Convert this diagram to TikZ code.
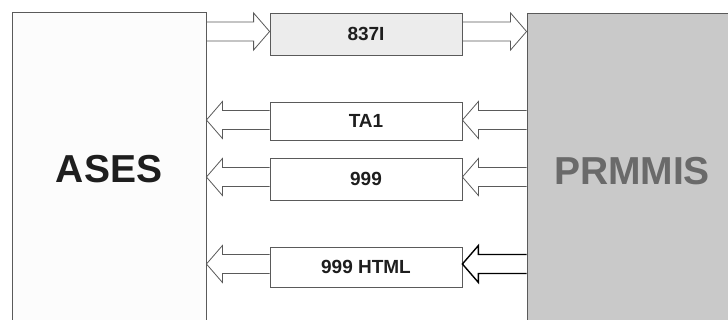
\documentclass[tikz,border=0pt]{standalone}
\usepackage{fontspec}
\setmainfont{Liberation Sans}
\usetikzlibrary{calc}
\definecolor{edge}{HTML}{5A5A5A}
\definecolor{asesfill}{HTML}{FCFCFC}
\definecolor{prmfill}{HTML}{C9C9C9}
\definecolor{prmtext}{HTML}{6A6A6A}
\definecolor{lightfill}{HTML}{ECECEC}
\definecolor{txt}{HTML}{1E1E1E}
\begin{document}
\begin{tikzpicture}[x=1pt,y=-1pt,
  big/.style={draw=edge, line width=0.9pt, inner sep=0pt, font=\bfseries\fontsize{39}{39}\selectfont},
  msg/.style={draw=edge, line width=0.8pt, fill=white, minimum width=192pt, inner sep=0pt, text=txt, font=\bfseries\fontsize{19}{19}\selectfont},
  blk/.style={draw=edge, line width=0.8pt, line join=miter,
    to path={let \p1=(\tikztostart), \p2=(\tikztotarget), \n1={sign(\x2-\x1)} in
      (\x1,{\y1+9.5pt}) -- ({\x2-\n1*16pt},{\y1+9.5pt}) -- ({\x2-\n1*16pt},{\y1+18.5pt}) -- (\x2,\y1)
      -- ({\x2-\n1*16pt},{\y1-18.5pt}) -- ({\x2-\n1*16pt},{\y1-9.5pt}) -- (\x1,{\y1-9.5pt})}},
  blkdark/.style={blk, draw=black, line width=1.4pt}]
\useasboundingbox (0,0) rectangle (728,320);
\clip (0,0) rectangle (728,320);
\fill[white] (0,0) rectangle (728,320);
\node[big, fill=asesfill, text=txt, minimum width=194pt, minimum height=314pt] (ases) at (109,169) {ASES};
\node[big, fill=prmfill, text=prmtext, minimum width=210pt, minimum height=316pt] (prm) at (632,171) {PRMMIS};
\node[msg, fill=lightfill, minimum height=42pt] (m837) at (366,34) {837I};
\node[msg, minimum height=38pt] (mta) at (366,121) {TA1};
\node[msg, minimum height=42pt] (m999) at (366,179) {999};
\node[msg, minimum height=40pt] (mhtml) at (366,267) {999 HTML};
% 837I: ASES -> 837I -> PRMMIS
\draw[blk] ($(m837.west -| ases.east)+(0,-2.5)$) to ($(m837.west)+(0,-2.5)$);
\draw[blk] ($(m837.east)+(0,-2.5)$) to ($(m837.east -| prm.west)+(0,-2.5)$);
% TA1: PRMMIS -> TA1 -> ASES
\draw[blk] ($(mta.east -| prm.west)+(0,-1)$) to ($(mta.east)+(0,-1)$);
\draw[blk] ($(mta.west)+(0,-1)$) to ($(mta.west -| ases.east)+(0,-1)$);
% 999
\draw[blk] ($(m999.east -| prm.west)+(0,-2)$) to ($(m999.east)+(0,-2)$);
\draw[blk] ($(m999.west)+(0,-2)$) to ($(m999.west -| ases.east)+(0,-2)$);
% 999 HTML
\draw[blkdark] ($(mhtml.east -| prm.west)+(0,-3)$) to ($(mhtml.east)+(0,-3)$);
\draw[blk] ($(mhtml.west)+(0,-3)$) to ($(mhtml.west -| ases.east)+(0,-3)$);
\end{tikzpicture}
\end{document}
